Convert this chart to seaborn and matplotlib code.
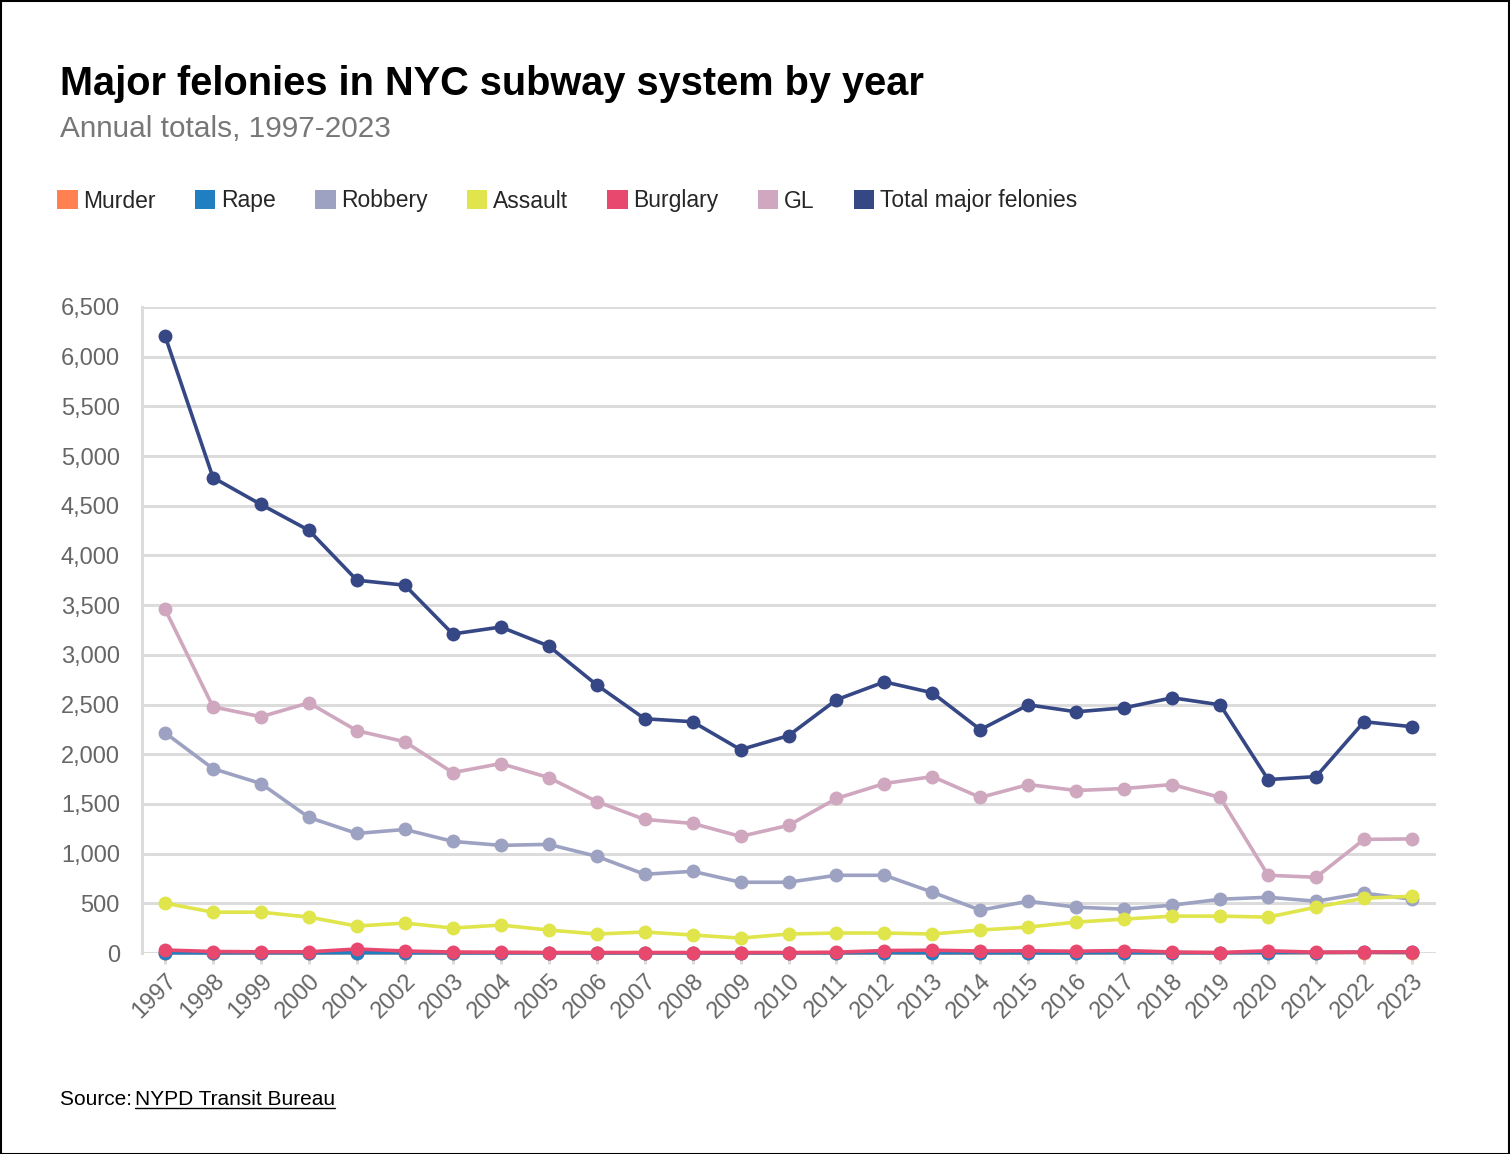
import seaborn as sns
import matplotlib.pyplot as plt
import pandas as pd
from matplotlib.patches import Patch, Rectangle
from matplotlib.lines import Line2D

years = list(range(1997, 2024))

murder = [3, 2, 1, 2, 3, 2, 1, 2, 1, 1, 2, 1, 1, 2, 1, 2, 1, 1, 2, 1, 2, 1, 2, 3, 4, 5, 3]
rape = [2, 1, 2, 1, 3, 2, 1, 1, 2, 1, 1, 1, 1, 1, 2, 3, 2, 2, 1, 2, 3, 2, 2, 4, 5, 7, 6]
robbery = [2216, 1855, 1705, 1364, 1203, 1243, 1123, 1083, 1093, 973, 792, 822, 712, 712,
           782, 782, 612, 431, 521, 461, 441, 481, 541, 561, 521, 602, 541]
assault = [501, 411, 411, 361, 271, 301, 251, 281, 231, 191, 211, 181, 150, 191,
           201, 201, 191, 231, 261, 311, 341, 371, 371, 361, 461, 551, 571]
burglary = [30, 15, 12, 12, 40, 20, 10, 8, 5, 5, 5, 5, 5, 5,
            8, 25, 28, 20, 22, 18, 25, 10, 5, 22, 8, 10, 12]
gl = [3460, 2477, 2377, 2517, 2237, 2126, 1815, 1906, 1765, 1524, 1344, 1304, 1173, 1284,
      1555, 1705, 1775, 1565, 1695, 1635, 1655, 1695, 1565, 782, 762, 1143, 1148]
total = [6210, 4784, 4513, 4253, 3751, 3701, 3210, 3280, 3089, 2698, 2357, 2327, 2046, 2187,
         2548, 2728, 2618, 2247, 2497, 2427, 2467, 2568, 2497, 1745, 1775, 2327, 2277]

series_names = ["Murder", "Rape", "Robbery", "Assault", "Burglary", "GL", "Total major felonies"]
series_values = [murder, rape, robbery, assault, burglary, gl, total]
colors = ["#ff8152", "#1f7fc0", "#9ea2c2", "#dfe54a", "#e8476e", "#cfa7bf", "#364785"]

rows = []
for name, vals in zip(series_names, series_values):
    for y, v in zip(years, vals):
        rows.append({"year": y, "value": v, "crime": name})
df = pd.DataFrame(rows)

sns.set_theme(style="white")
plt.rcParams['font.family'] = ['Liberation Sans', 'DejaVu Sans']

fig = plt.figure(figsize=(15.1, 11.54), dpi=100)
W, H = 1510, 1154
ax = fig.add_axes([142 / W, 1 - 953 / H, (1436 - 142) / W, (953 - 307) / H])

sns.lineplot(data=df, x="year", y="value", hue="crime", hue_order=series_names,
             palette=colors, marker="o", markersize=10, markeredgewidth=0,
             linewidth=2.6, legend=False, ax=ax, clip_on=False)

ax.set_xlim(1996.52, 2023.5)
ax.set_ylim(0, 6500)
ax.set_yticks(range(0, 6501, 500))
ax.set_yticklabels([f"{v:,}" for v in range(0, 6501, 500)])
ax.set_xticks(years)
ax.set_xticklabels([str(y) for y in years], rotation=45, ha="right", rotation_mode="anchor")
ax.set_xlabel("")
ax.set_ylabel("")

grid_c = "#dcdcdc"
ax.grid(True, axis="y", color=grid_c, linewidth=2.2)
ax.set_axisbelow(True)
for s in ["top", "right", "bottom"]:
    ax.spines[s].set_visible(False)
ax.spines["left"].set_color(grid_c)
ax.spines["left"].set_linewidth(2.2)
ax.tick_params(axis="y", length=11, width=2.2, color=grid_c, labelsize=17, labelcolor="#666666", pad=5)
ax.tick_params(axis="x", length=8, width=2.2, color=grid_c, labelsize=17, labelcolor="#666666",
               pad=4, bottom=True, direction="out")

# title and subtitle
fig.text(60 / W, 1 - 95 / H, "Major felonies in NYC subway system by year",
         fontsize=28.6, fontweight="bold", color="black", ha="left", va="baseline")
fig.text(60 / W, 1 - 137 / H, "Annual totals, 1997-2023",
         fontsize=21.4, color="#777777", ha="left", va="baseline")

# legend
handles = [Patch(facecolor=c, edgecolor="none", label=n) for n, c in zip(series_names, colors)]
fig.legend(handles=handles, loc="center left", bbox_to_anchor=(57 / W, 1 - 201 / H),
           ncol=7, frameon=False, fontsize=16.5, handlelength=0.9, handleheight=0.9,
           handletextpad=0.25, columnspacing=1.7, borderaxespad=0, borderpad=0)

# source with underline
fig.text(60 / W, 1 - 1105 / H, "Source: ", fontsize=15, color="black", ha="left", va="baseline")
src = fig.text(135 / W, 1 - 1105 / H, "NYPD Transit Bureau", fontsize=15, color="black",
               ha="left", va="baseline")
fig.canvas.draw()
bb = src.get_window_extent()
fig.add_artist(Line2D([bb.x0 / W, bb.x1 / W], [(bb.y0 + 1) / H, (bb.y0 + 1) / H],
                      transform=fig.transFigure, color="black", linewidth=1))

# border
fig.add_artist(Rectangle((0.5 / W, 0.5 / H), 1 - 1.5 / W, 1 - 1.5 / H, transform=fig.transFigure,
                         fill=False, edgecolor="black", linewidth=1.5))

plt.savefig("out.png", dpi=100)
plt.close()
